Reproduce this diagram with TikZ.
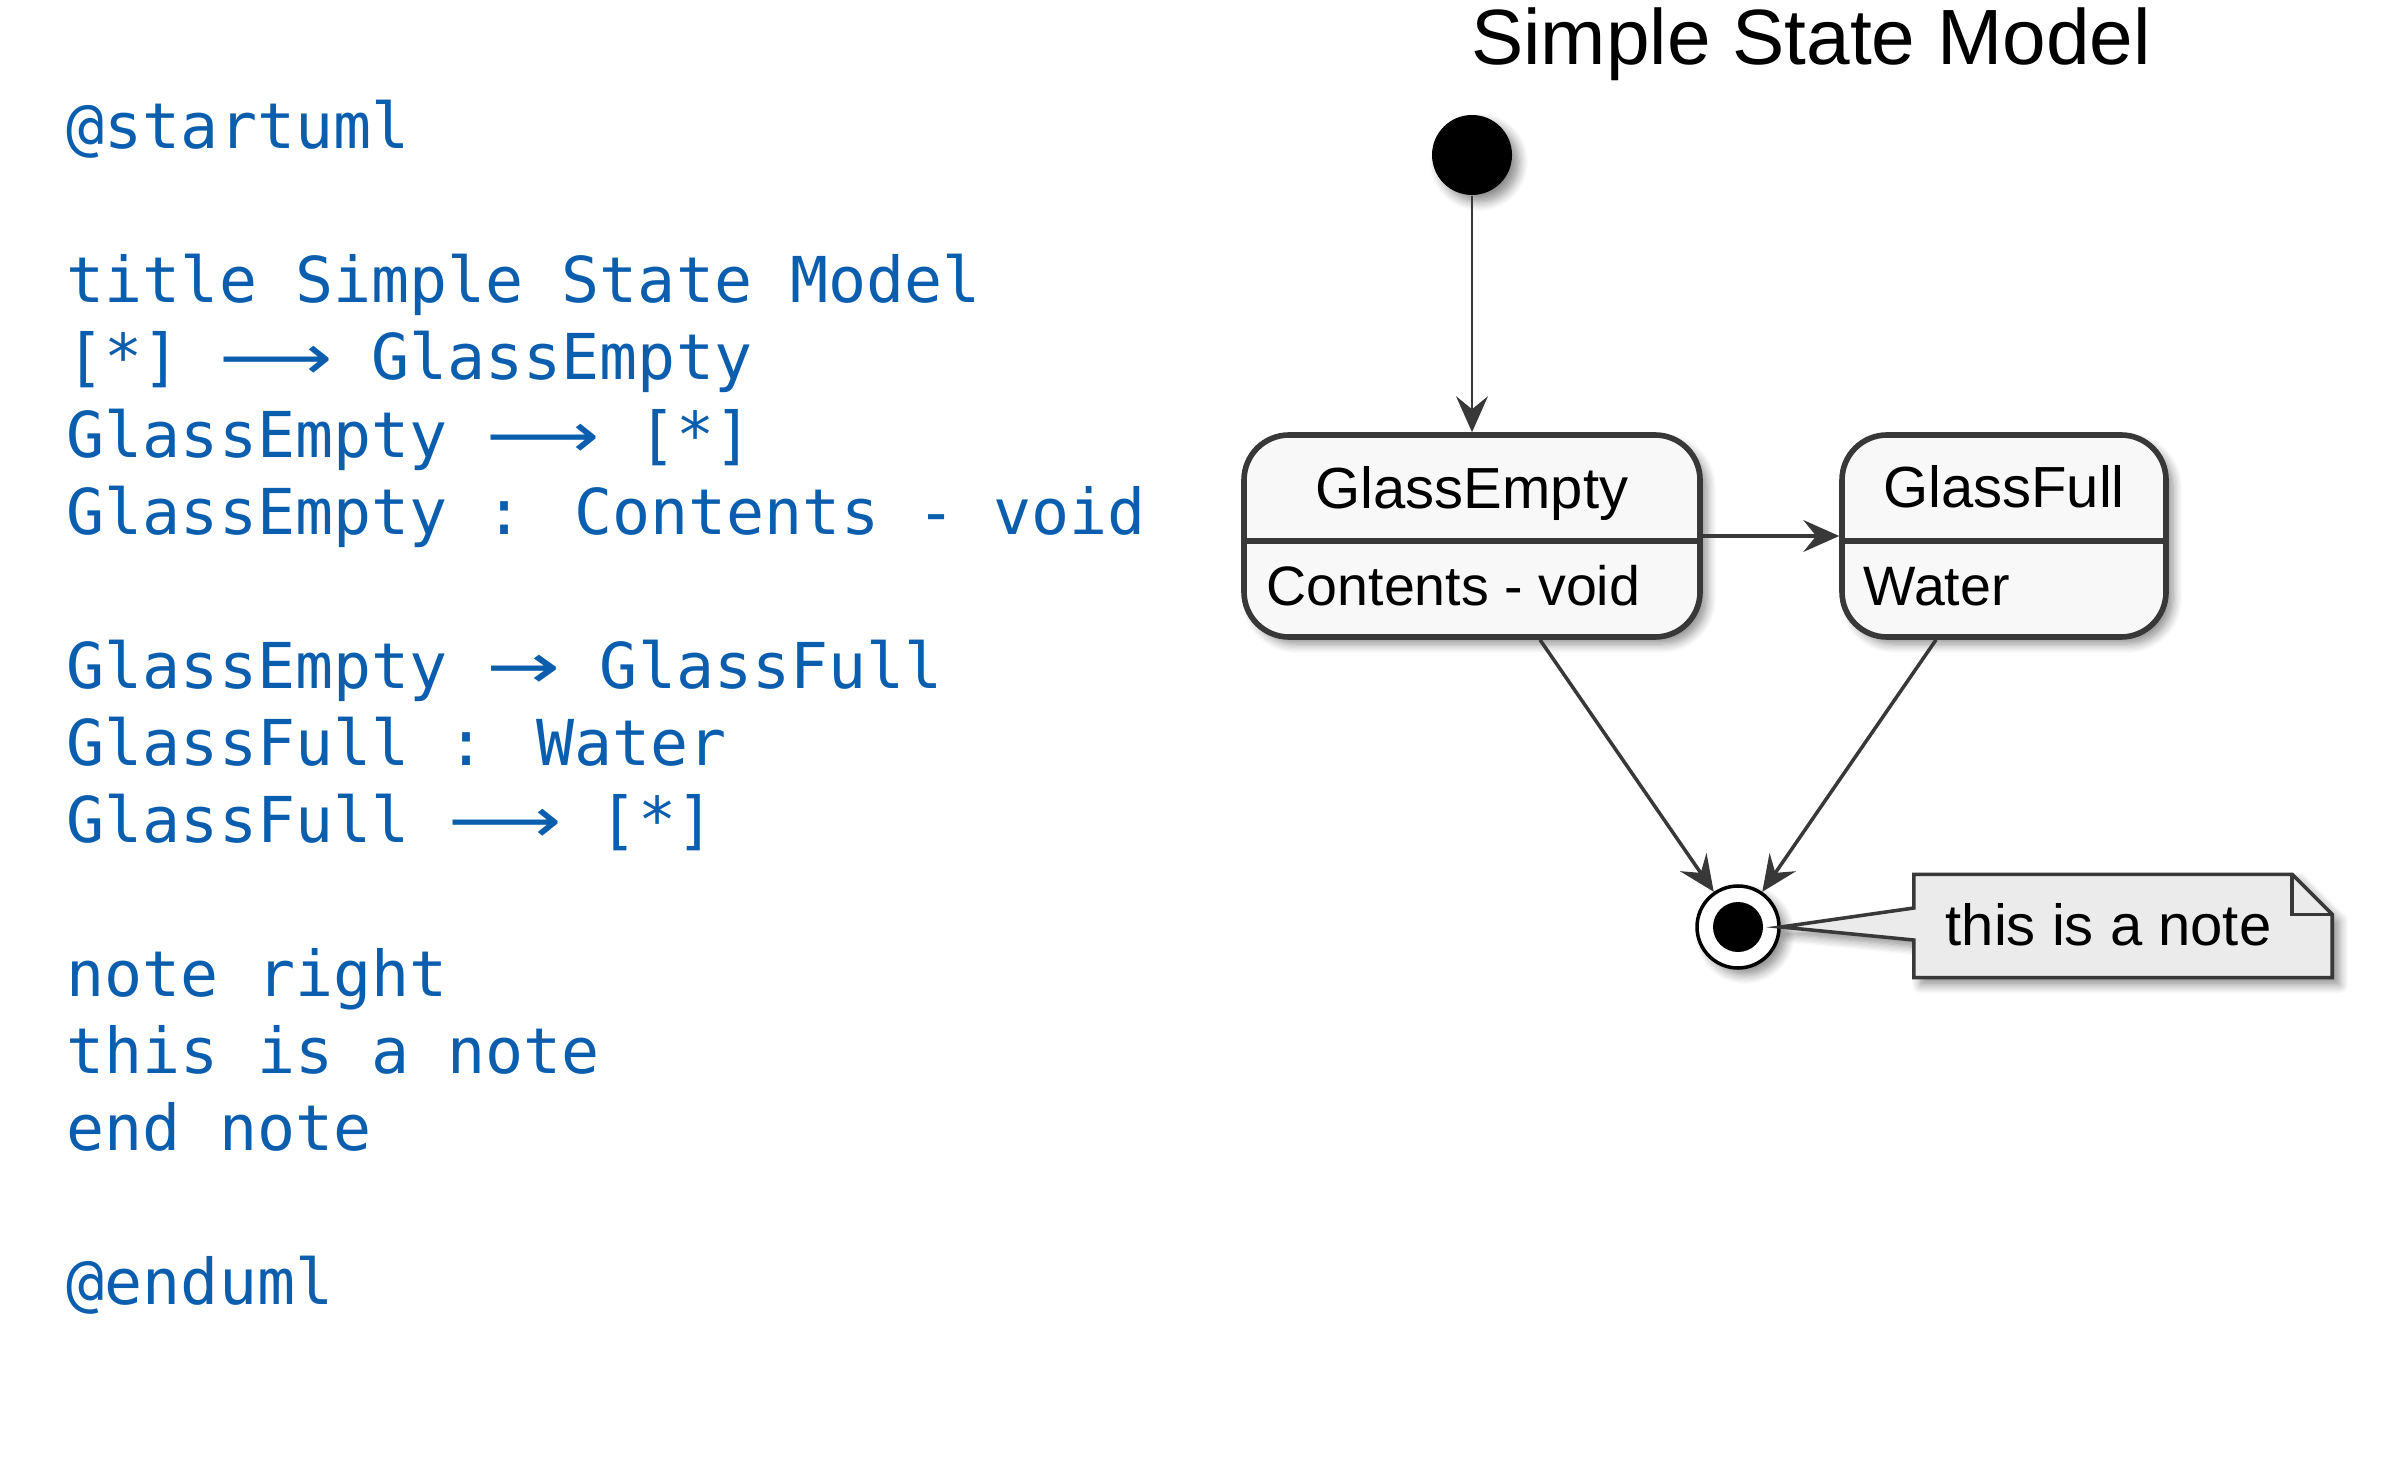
\documentclass[tikz,border=0pt]{standalone}
\usepackage{fontspec}
\usepackage{graphicx}
\setmainfont{Liberation Sans}
\newfontfamily\codefont{DejaVu Sans Mono}
\newfontfamily\arrowfont{DejaVu Sans}
\usepackage{tikz}
\usetikzlibrary{arrows.meta,shadows.blur}
\definecolor{codeblue}{HTML}{0B5EAE}
\definecolor{umlline}{HTML}{383838}
\definecolor{statefill}{HTML}{F8F8F8}
\definecolor{notefill}{HTML}{EBEBEB}
\newcommand{\longarr}{\makebox[1.806em]{\scalebox{1.25}[1]{\arrowfont ⟶}}}
\newcommand{\shortarr}{\makebox[1.204em]{\scalebox{1.4}[1]{\arrowfont →}}}
\tikzset{
  code/.style={anchor=base west, inner sep=0pt, text=codeblue, font=\codefont\fontsize{18}{22}\selectfont},
  umlshadow/.style={blur shadow={shadow xshift=0.07cm, shadow yshift=-0.07cm, shadow blur radius=0.09cm, shadow opacity=45, shadow blur steps=8}},
  state/.style={draw=umlline, line width=1.6pt, fill=statefill, rounded corners=0.45cm, minimum height=2.02cm, inner sep=0pt, umlshadow},
  statetext/.style={inner sep=0pt, font=\fontsize{16.5}{20}\selectfont},
  statebody/.style={inner sep=0pt, font=\fontsize{15.8}{19}\selectfont},
  umlarrow/.style={draw=umlline, line width=1pt, -{Stealth[length=0.36cm, width=0.32cm, inset=0.13cm]}},
}
\begin{document}
\begin{tikzpicture}
\useasboundingbox (0,0) rectangle (24,-14.7);
\foreach \i/\txt in {0/{@startuml}, 2/{title Simple State Model}, 3/{[*] \longarr{} GlassEmpty},
  4/{GlassEmpty \longarr{} [*]}, 5/{GlassEmpty : Contents - void}, 7/{GlassEmpty \shortarr{} GlassFull},
  8/{GlassFull : Water}, 9/{GlassFull \longarr{} [*]}, 11/{note right}, 12/{this is a note},
  13/{end note}, 15/{@enduml}}
  \node[code] (line\i) at (0.66,-1.49-0.77*\i) {\txt};

\node[anchor=base, inner sep=0pt, font=\fontsize{22.3}{26}\selectfont] (title) at (18.11,-0.65) {Simple State Model};
\node[circle, fill=black, minimum size=0.8cm, inner sep=0pt, umlshadow] (init) at (14.72,-1.55) {};

\node[state, minimum width=4.56cm] (gempty) at (14.72,-5.36) {};
\node[state, minimum width=3.24cm] (gfull) at (20.04,-5.36) {};
\draw[umlline, line width=1.6pt] ([yshift=-0.05cm]gempty.west) -- ([yshift=-0.05cm]gempty.east);
\draw[umlline, line width=1.6pt] ([yshift=-0.05cm]gfull.west) -- ([yshift=-0.05cm]gfull.east);
\node[statetext, anchor=base] (gemptyname) at (14.72,-5.08) {GlassEmpty};
\node[statebody, anchor=base west] (gemptybody) at (12.66,-6.05) {Contents - void};
\node[statetext, anchor=base] (gfullname) at (20.04,-5.07) {GlassFull};
\node[statebody, anchor=base west] (gfullbody) at (18.63,-6.05) {Water};

\node[circle, draw=black, line width=1pt, fill=white, minimum size=0.82cm, inner sep=0pt, umlshadow] (final) at (17.38,-9.27) {};
\node[circle, fill=black, minimum size=0.5cm, inner sep=0pt] (finaldot) at (final) {};

\node[minimum width=4.17cm, minimum height=1.02cm, inner sep=0pt] (note) at (21.23,-9.26) {};
\draw[umlline, line width=1pt, fill=notefill, umlshadow] (note.north west) -- ([xshift=-0.4cm]note.north east)
  -- ([yshift=-0.4cm]note.north east) -- (note.south east) -- (note.south west)
  -- ([yshift=-0.14cm]note.west) -- (final.east) -- ([yshift=0.18cm]note.west) -- cycle;
\draw[umlline, line width=1pt] ([xshift=-0.4cm]note.north east) -- ++(0,-0.4) -- ++(0.4,0);
\node[statetext, anchor=base west] (notetext) at (19.45,-9.45) {this is a note};

\draw[umlarrow, line width=0.5pt] (init) -- (gempty);
\draw[umlarrow] (gempty) -- (gfull);
\draw[umlarrow] ([xshift=0.68cm]gempty.south) -- (final);
\draw[umlarrow] ([xshift=-0.68cm]gfull.south) -- (final);
\end{tikzpicture}
\end{document}
